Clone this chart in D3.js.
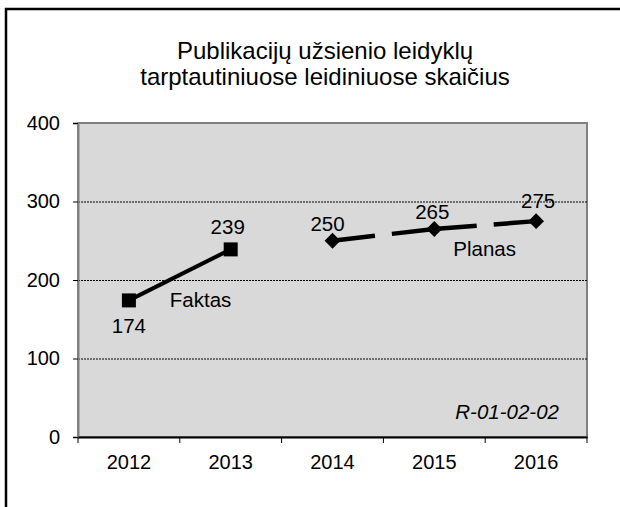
<!DOCTYPE html>
<html>
<head>
<meta charset="utf-8">
<script src="https://cdn.jsdelivr.net/npm/d3@7"></script>
<style>
  body { margin: 0; background: #fff; overflow: hidden; }
  svg { display: block; font-family: Arial, "Liberation Sans", sans-serif; }
</style>
</head>
<body>
<svg id="chart" width="620" height="507"></svg>
<script>
// Data
const years = ['2012', '2013', '2014', '2015', '2016'];
const faktasValues = [174, 239, null, null, null];
const planasValues = [null, null, 250, 265, 275];
const yTicks = [0, 100, 200, 300, 400];
const titleLines = ['Publikacijų užsienio leidyklų', 'tarptautiniuose leidiniuose skaičius'];

const svg = d3.select('#chart');
const plot = { left: 78, right: 587, top: 123, bottom: 437 };

const x = d3.scaleBand().domain(years).range([plot.left, plot.right]).padding(0);
const cx = d => x(d) + x.bandwidth() / 2;
const y = d3.scaleLinear().domain([0, 400]).range([plot.bottom, plot.top]);

// Outer frame (only top and left edges fall inside the picture)
svg.append('path')
  .attr('d', 'M6,507V9H620')
  .attr('fill', 'none').attr('stroke', '#000').attr('stroke-width', 2.5);

// Title
svg.append('text')
  .attr('x', 325).attr('y', 59)
  .attr('text-anchor', 'middle')
  .attr('font-size', 24)
  .selectAll('tspan').data(titleLines).join('tspan')
  .attr('x', 325).attr('dy', (d, i) => i ? 26 : 0)
  .text(d => d);

// Plot area
svg.append('rect')
  .attr('x', plot.left).attr('y', plot.top)
  .attr('width', plot.right - plot.left).attr('height', plot.bottom - plot.top)
  .attr('fill', '#d9d9d9').attr('stroke', '#808080').attr('stroke-width', 2);

// Gridlines
svg.append('g').selectAll('line').data(yTicks.filter(t => t > 0 && t < 400)).join('line')
  .attr('x1', plot.left).attr('x2', plot.right)
  .attr('y1', d => y(d) + 0.5).attr('y2', d => y(d) + 0.5)
  .attr('stroke', '#000').attr('stroke-width', 1).attr('stroke-dasharray', '2,1');

// Y axis
const yAxis = svg.append('g')
  .attr('transform', `translate(${plot.left},0)`)
  .call(d3.axisLeft(y).tickValues(yTicks).tickSize(5).tickPadding(13));
yAxis.select('.domain').attr('stroke', '#808080').attr('stroke-width', 2);
yAxis.selectAll('.tick line').attr('stroke', '#000');
yAxis.selectAll('text').attr('font-size', 20).attr('fill', '#000').attr('font-family', null);

// X axis
const xAxis = svg.append('g')
  .attr('transform', `translate(0,${plot.bottom})`)
  .call(d3.axisBottom(x).tickSize(0).tickPadding(18));
xAxis.select('.domain').attr('stroke', '#000').attr('stroke-width', 2);
xAxis.selectAll('text').attr('font-size', 20).attr('fill', '#000').attr('font-family', null);
xAxis.selectAll('.edge').data(years.map(d => x(d)).concat([plot.right])).join('line')
  .attr('class', 'edge')
  .attr('x1', d => d).attr('x2', d => d).attr('y1', 0).attr('y2', 6)
  .attr('stroke', '#000').attr('stroke-width', 1);

// Faktas: solid line with squares
const faktas = years.map((d, i) => ({ year: d, value: faktasValues[i] })).filter(d => d.value != null);
const line = d3.line().x(d => cx(d.year)).y(d => y(d.value));

svg.append('path').datum(faktas)
  .attr('d', line).attr('fill', 'none').attr('stroke', '#000').attr('stroke-width', 4);
svg.append('g').selectAll('path').data(faktas).join('path')
  .attr('d', d3.symbol(d3.symbolSquare, 196))
  .attr('transform', d => `translate(${cx(d.year)},${y(d.value)})`)
  .attr('fill', '#000');

// Planas: long dashed segments with diamonds
const planas = years.map((d, i) => ({ year: d, value: planasValues[i] })).filter(d => d.value != null);
const segments = d3.pairs(planas);
svg.append('g').selectAll('path').data(segments).join('path')
  .attr('d', d => line(d))
  .attr('fill', 'none').attr('stroke', '#000').attr('stroke-width', 4.5)
  .attr('stroke-dasharray', function () {
    const L = this.getTotalLength();
    return `${(L - 17) / 2},17,${L}`;
  });
svg.append('g').selectAll('path').data(planas).join('path')
  .attr('d', d3.symbol(d3.symbolSquare, 125))
  .attr('transform', d => `translate(${cx(d.year)},${y(d.value)}) rotate(45)`)
  .attr('fill', '#000');

// Data labels
const labelOffset = { '2012': 33, '2013': -15, '2014': -10, '2015': -10, '2016': -13 };
const labelShift = { '2012': 0, '2013': -3, '2014': -5, '2015': -2, '2016': 2 };
svg.append('g').selectAll('text').data(faktas.concat(planas)).join('text')
  .attr('x', d => cx(d.year) + labelShift[d.year])
  .attr('y', d => y(d.value) + labelOffset[d.year])
  .attr('text-anchor', 'middle').attr('font-size', 20.5)
  .text(d => d.value);

// Series names
svg.append('text')
  .attr('x', (cx(faktas[0].year) + cx(faktas[1].year)) / 2 - 10)
  .attr('y', (y(faktas[0].value) + y(faktas[1].value)) / 2 + 32)
  .attr('font-size', 20.5).text('Faktas');
svg.append('text')
  .attr('x', cx(planas[1].year) + 19)
  .attr('y', y(planas[1].value) + 27)
  .attr('font-size', 20.5).text('Planas');

// Chart code
svg.append('text')
  .attr('x', 559).attr('y', 419)
  .attr('text-anchor', 'end').attr('font-size', 20.5).attr('font-style', 'italic')
  .text('R-01-02-02');
</script>
</body>
</html>
